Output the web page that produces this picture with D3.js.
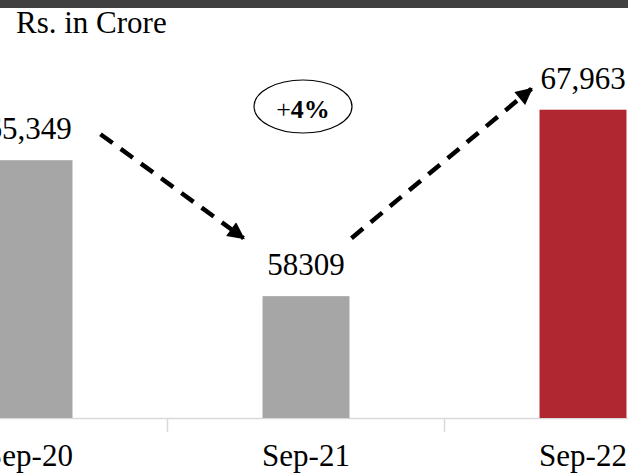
<!DOCTYPE html>
<html>
<head>
<meta charset="utf-8">
<script src="https://cdn.jsdelivr.net/npm/d3@7"></script>
<style>
  body { margin: 0; background: #fff; }
  svg { display: block; font-family: "Liberation Serif", "Times New Roman", serif; }
</style>
</head>
<body>
<div id="chartContainer"></div>
<script>
// Chart data
const categories = ["Sep-20", "Sep-21", "Sep-22"];
const values = [65349, 58309, 67963];
const valueLabels = ["65,349", "58309", "67,963"];
const growthLabel = "4%";

const width = 628, height = 476;
const baseline = 418;

const svg = d3.select("#chartContainer")
    .append("svg")
    .attr("width", width)
    .attr("height", height);

// Arrowhead marker
svg.append("defs").append("marker")
    .attr("id", "arrow")
    .attr("markerUnits", "userSpaceOnUse")
    .attr("viewBox", "0 0 10 10")
    .attr("refX", 9)
    .attr("refY", 5)
    .attr("markerWidth", 19)
    .attr("markerHeight", 17)
    .attr("orient", "auto")
    .append("path")
    .attr("d", "M0,0 L10,5 L0,10 Z")
    .attr("fill", "#000");

// Dark strip at the top
svg.append("rect")
    .attr("x", 0).attr("y", 0)
    .attr("width", width).attr("height", 8)
    .attr("fill", "#404040");

// Unit label
svg.append("text")
    .attr("x", 16)
    .attr("y", 33)
    .style("font-size", "31px")
    .text("Rs. in Crore");

// Scales
const xScale = d3.scaleBand()
    .domain(categories)
    .range([-109.5, 721.5])
    .paddingInner(0.686)
    .paddingOuter(0.343);

const yScale = d3.scaleLinear()
    .domain([52000, 68000])
    .range([baseline, 109]);

const cx = i => xScale(categories[i]) + xScale.bandwidth() / 2;

// Axis line and tick marks between categories
const xAxis = svg.append("g")
    .attr("transform", "translate(0," + baseline + ")")
    .call(d3.axisBottom(xScale).tickSize(0).tickPadding(26));
xAxis.select(".domain").attr("stroke", "#d9d9d9").attr("stroke-width", 1.5);
xAxis.selectAll("text")
    .attr("fill", "#000")
    .style("font-size", "31px")
    .style("font-family", "'Liberation Serif', 'Times New Roman', serif");

svg.selectAll(".sep")
    .data(categories.slice(1))
    .enter()
    .append("line")
    .attr("class", "sep")
    .attr("x1", d => Math.round(xScale(d) - (xScale.step() - xScale.bandwidth()) / 2) + 0.5)
    .attr("x2", d => Math.round(xScale(d) - (xScale.step() - xScale.bandwidth()) / 2) + 0.5)
    .attr("y1", baseline)
    .attr("y2", baseline + 14)
    .attr("stroke", "#d9d9d9")
    .attr("stroke-width", 1.5);

// Bars
svg.selectAll(".bar")
    .data(values)
    .enter()
    .append("rect")
    .attr("class", "bar")
    .attr("x", (d, i) => xScale(categories[i]))
    .attr("y", d => yScale(d))
    .attr("width", xScale.bandwidth())
    .attr("height", d => baseline - yScale(d))
    .attr("fill", (d, i) => i === values.length - 1 ? "#b12731" : "#a6a6a6");

// Value labels
svg.selectAll(".val")
    .data(values)
    .enter()
    .append("text")
    .attr("class", "val")
    .attr("x", (d, i) => cx(i))
    .attr("y", d => yScale(d) - 21)
    .attr("text-anchor", "middle")
    .style("font-size", "31px")
    .text((d, i) => valueLabels[i]);

// Dashed trend arrows
const half = xScale.bandwidth() / 2;
const arrows = [
    [cx(0) + half + 28, yScale(values[0]) - 26, cx(1) - half - 19, yScale(values[1]) - 58],
    [cx(1) + half + 2, yScale(values[1]) - 58, cx(2) - half - 8, yScale(values[2]) - 21]
];
svg.selectAll(".trend")
    .data(arrows)
    .enter()
    .append("line")
    .attr("class", "trend")
    .attr("x1", d => d[0]).attr("y1", d => d[1])
    .attr("x2", d => d[2]).attr("y2", d => d[3])
    .attr("stroke", "#000")
    .attr("stroke-width", 4.5)
    .attr("stroke-dasharray", "15,10")
    .attr("marker-end", "url(#arrow)");

// Growth bubble
const bubble = svg.append("g")
    .attr("transform", "translate(" + (cx(1) - 3) + ",106.5)");
bubble.append("ellipse")
    .attr("rx", 49).attr("ry", 26.5)
    .attr("fill", "#fff")
    .attr("stroke", "#000")
    .attr("stroke-width", 1.2);
const g = bubble.append("text")
    .attr("y", 11)
    .attr("text-anchor", "middle")
    .style("font-size", "26px");
g.append("tspan").text("+");
g.append("tspan").style("font-weight", "bold").text(growthLabel);
</script>
</body>
</html>
